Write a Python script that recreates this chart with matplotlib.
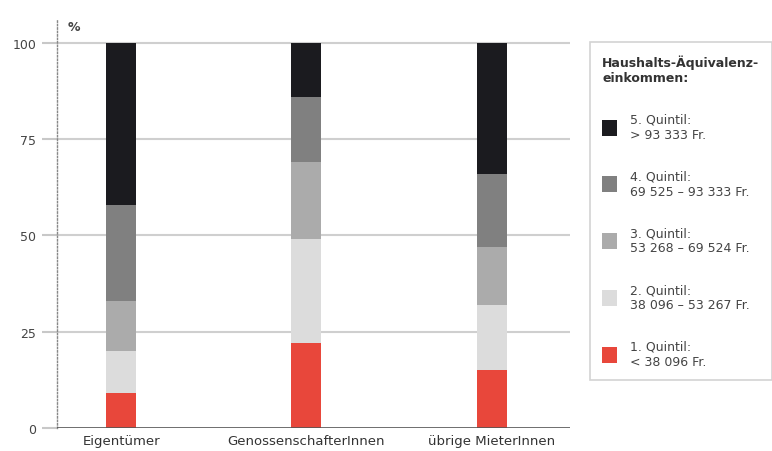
import numpy as np
import matplotlib.pyplot as plt
from matplotlib.patches import Patch

plt.rcParams['font.family'] = ['Liberation Sans Narrow', 'DejaVu Sans']

# data (shares in %, bottom to top)
categories = ['Eigentümer', 'GenossenschafterInnen', 'übrige MieterInnen']
q1 = [9, 22, 15]
q2 = [11, 27, 17]
q3 = [13, 20, 15]
q4 = [25, 17, 19]
q5 = [42, 14, 34]
series = [q1, q2, q3, q4, q5]
labels = ['1. Quintil:\n< 38 096 Fr.',
          '2. Quintil:\n38 096 – 53 267 Fr.',
          '3. Quintil:\n53 268 – 69 524 Fr.',
          '4. Quintil:\n69 525 – 93 333 Fr.',
          '5. Quintil:\n> 93 333 Fr.']
colors = ['#e8473b', '#dcdcdc', '#ababab', '#808080', '#1b1b1f']
yticks = [0, 25, 50, 75, 100]

fig = plt.figure(figsize=(7.72, 4.52), dpi=100)
ax = fig.add_axes([0.074, 0.051, 0.664, 0.903])

x = np.arange(len(categories))
bottom = np.zeros(len(categories))
for vals, c in zip(series, colors):
    ax.bar(x, vals, width=0.162, bottom=bottom, color=c, zorder=3)
    bottom += np.array(vals)

ax.set_xlim(-0.345, 2.42)
ax.set_ylim(0, 106)
ax.set_yticks(yticks)
ax.set_xticks(x)
ax.set_xticklabels(categories, fontsize=9.5, color='#333333')
ax.tick_params(axis='x', length=0, pad=4)
ax.tick_params(axis='y', length=11, color='#c8c8c8', width=1.5, labelsize=9,
               labelcolor='#444444', pad=4)
for v in yticks[1:]:
    ax.axhline(v, color='#cfcfcf', lw=1.5, zorder=1)
ax.axhline(0, color='#555555', lw=1.2, zorder=4)

for s in ['top', 'right', 'bottom']:
    ax.spines[s].set_visible(False)
ax.spines['left'].set_linestyle((0, (1, 1.5)))
ax.spines['left'].set_color('#888888')
ax.spines['left'].set_linewidth(1.0)

ax.text(0.02, 1.0, '%', transform=ax.transAxes, fontsize=9, fontweight='bold',
        color='#444444', va='top', ha='left')

handles = [Patch(facecolor=c, edgecolor='none') for c in colors][::-1]
leg = ax.legend(handles, labels[::-1], loc='upper left',
                bbox_to_anchor=(0.764, 0.905), bbox_transform=fig.transFigure,
                title='Haushalts-Äquivalenz-\neinkommen:', alignment='left',
                fontsize=9, title_fontsize=9, frameon=True, fancybox=False,
                edgecolor='#c8c8c8', handlelength=1.2, handleheight=1.6,
                labelspacing=2.3, borderpad=1.0, handletextpad=1.0,
                borderaxespad=0)
leg.get_title().set_fontweight('bold')
leg.get_title().set_color('#333333')
for t in leg.get_texts():
    t.set_color('#444444')
leg.get_frame().set_linewidth(1.2)

fig.savefig('out.png', dpi=100)
